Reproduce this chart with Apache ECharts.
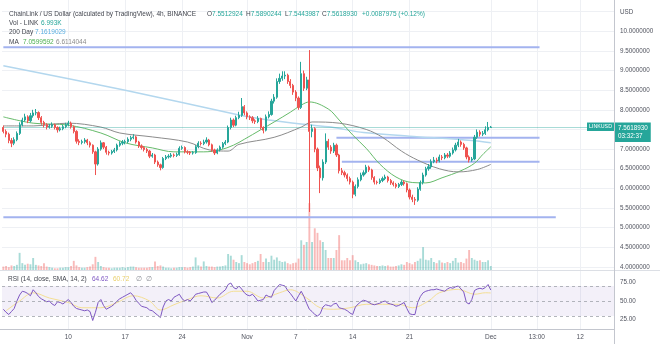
<!DOCTYPE html>
<html>
<head>
<meta charset="utf-8">
<script src="https://cdn.jsdelivr.net/npm/echarts@6/dist/echarts.min.js"></script>
<style>
  html, body { margin: 0; padding: 0; background: #ffffff; }
  #chart { width: 660px; height: 344px; }
</style>
</head>
<body>
<div id="chart"></div>
<script>
// LINK/USD, 8-hour bars from 2 Oct to 1 Dec; extra empty slots leave room on the right.
const SLOTS = 226;
const firstOpen = 7.55;

const closes = [
  7.45,7.38,7.22,7.15,7.24,7.40,7.62,7.74,7.82,7.72,
  7.85,7.92,7.93,7.80,7.68,7.62,7.56,7.58,7.62,7.55,
  7.49,7.52,7.57,7.62,7.66,7.57,7.45,7.20,7.17,7.19,
  7.23,7.16,7.10,6.93,6.62,7.00,7.16,7.05,6.92,6.90,
  6.94,6.98,7.10,7.15,7.18,7.19,7.25,7.29,7.31,7.18,
  7.08,7.04,6.99,6.95,6.82,6.85,6.67,6.60,6.53,6.76,
  6.80,6.82,6.85,6.84,6.86,7.02,7.04,6.93,6.92,6.90,
  6.91,7.06,7.15,7.14,7.18,7.23,7.11,6.98,6.90,6.98,
  7.05,7.14,7.18,7.55,7.74,7.61,7.80,7.86,8.08,7.92,
  7.82,7.80,7.72,7.70,7.78,7.55,7.48,7.82,7.88,8.22,
  8.32,8.72,8.80,8.86,8.88,8.72,8.62,8.45,8.30,8.06,
  8.92,8.55,8.76,7.45,7.52,7.00,6.52,6.27,6.67,7.20,
  7.05,6.95,7.10,6.85,6.45,6.40,6.34,6.25,6.16,5.85,
  6.05,6.22,6.34,6.40,6.54,6.47,6.28,6.16,6.15,6.20,
  6.25,6.29,6.20,6.14,6.10,6.05,6.10,6.16,6.12,5.96,
  5.78,5.72,5.70,5.98,6.15,6.34,6.50,6.55,6.68,6.72,
  6.70,6.80,6.78,6.85,6.82,6.90,6.98,7.10,7.18,7.12,
  7.03,6.80,6.72,6.75,7.30,7.43,7.38,7.40,7.49,7.5512924,7.5618930
];

const highs = [
  7.60,7.50,7.42,7.28,7.30,7.45,7.68,7.80,7.90,7.86,
  7.92,8.00,8.02,7.96,7.84,7.72,7.66,7.64,7.68,7.65,
  7.58,7.57,7.62,7.67,7.72,7.70,7.60,7.48,7.25,7.24,
  7.28,7.26,7.20,7.12,6.96,7.05,7.22,7.18,7.08,6.96,
  6.98,7.03,7.14,7.20,7.23,7.24,7.30,7.34,7.38,7.34,
  7.21,7.12,7.07,7.03,6.98,6.90,6.88,6.71,6.63,6.80,
  6.85,6.87,6.90,6.89,6.91,7.07,7.09,7.07,6.97,6.95,
  6.95,7.10,7.20,7.20,7.24,7.30,7.26,7.14,7.01,7.02,
  7.09,7.18,7.23,7.60,7.80,7.78,7.85,7.95,8.30,8.12,
  7.96,7.86,7.84,7.76,7.84,7.80,7.58,7.88,7.96,8.28,
  8.40,8.80,8.92,8.98,8.98,8.92,8.78,8.66,8.50,8.34,
  9.22,9.00,8.84,9.52,7.62,7.56,7.04,6.58,6.74,7.40,
  7.26,7.10,7.16,7.14,6.88,6.52,6.45,6.38,6.30,6.20,
  6.10,6.28,6.40,6.46,6.60,6.58,6.50,6.31,6.20,6.25,
  6.30,6.35,6.32,6.24,6.18,6.14,6.14,6.21,6.20,6.15,
  6.00,5.84,5.78,6.03,6.20,6.40,6.55,6.62,6.74,6.80,
  6.78,6.86,6.85,6.90,6.90,6.95,7.04,7.16,7.26,7.22,
  7.16,7.06,6.84,6.80,7.36,7.50,7.48,7.46,7.58,7.69,7.5890244
];

const lows = [
  7.40,7.30,7.15,7.05,7.10,7.20,7.36,7.58,7.70,7.66,
  7.68,7.80,7.86,7.74,7.62,7.55,7.50,7.52,7.54,7.50,
  7.42,7.45,7.48,7.53,7.58,7.52,7.40,7.14,7.10,7.12,
  7.14,7.10,7.04,6.88,6.34,6.58,6.96,7.00,6.86,6.84,
  6.86,6.90,6.94,7.06,7.10,7.12,7.15,7.20,7.25,7.14,
  7.03,6.99,6.94,6.90,6.77,6.78,6.62,6.55,6.46,6.50,
  6.72,6.76,6.78,6.79,6.80,6.83,6.98,6.89,6.87,6.85,
  6.86,6.88,7.02,7.09,7.10,7.14,7.07,6.93,6.85,6.87,
  6.94,7.01,7.10,7.15,7.50,7.56,7.58,7.76,7.82,7.86,
  7.76,7.74,7.66,7.64,7.66,7.50,7.40,7.45,7.78,7.85,
  8.16,8.28,8.66,8.74,8.78,8.66,8.55,8.38,8.22,8.00,
  8.02,8.48,8.50,5.40,7.30,6.92,6.44,5.88,6.20,6.62,
  6.98,6.88,6.90,6.80,6.38,6.34,6.28,6.18,6.10,5.75,
  5.80,6.00,6.18,6.30,6.36,6.42,6.22,6.10,6.10,6.11,
  6.16,6.21,6.15,6.09,6.05,6.00,6.01,6.06,6.07,5.90,
  5.72,5.65,5.58,5.66,5.94,6.10,6.30,6.45,6.50,6.64,
  6.64,6.66,6.72,6.74,6.77,6.78,6.86,6.94,7.05,7.06,
  6.98,6.74,6.66,6.68,6.72,7.26,7.32,7.33,7.36,7.45,7.5443987
];

// Volume in thousands of LINK
const volumes = [
  6,7,5,8,7,9,30,12,9,11,
  10,21,9,8,7,12,6,5,4,3,
  3,4,4,5,5,7,16,8,5,4,
  4,5,6,10,23,14,7,5,4,4,
  3,4,4,4,5,4,5,6,6,5,
  4,4,4,4,5,5,15,7,8,6,
  4,4,3,4,4,5,5,5,4,5,
  6,22,8,6,15,7,6,6,5,6,
  6,7,8,28,25,18,14,12,26,14,
  12,10,12,14,16,28,14,20,14,25,
  18,22,16,14,15,12,10,12,13,20,
  52,44,49,117,49,73,65,52,49,35,
  21,21,21,35,61,17,17,21,17,26,
  17,14,10,11,12,10,9,8,7,7,
  8,7,8,6,6,7,8,10,9,14,
  12,10,14,16,20,40,18,17,21,14,
  12,17,13,12,14,12,16,21,13,14,
  12,20,35,21,18,16,17,14,14,17,6.993
];

const rsiValues = [
  39,35,32,36,40,50,58,63,62,60,
  57,65,61,56,53,51,49,50,46,44,
  49,48,46,49,52,48,43,40,39,38,
  37,38,36,24,35,48,52,44,39,41,
  43,46,50,53,55,57,59,61,57,51,
  47,43,42,41,38,37,34,31,28,42,
  50,52,50,55,57,59,53,50,52,50,
  54,59,60,61,62,62,56,48,51,55,
  59,62,65,72,74,68,66,70,66,61,
  58,57,59,55,50,51,52,58,56,55,
  64,68,72,71,70,64,60,55,50,57,
  63,56,47,39,36,32,30,33,42,45,
  44,43,46,47,41,40,39,37,34,32,
  42,46,49,51,50,48,46,45,46,47,
  49,50,47,46,45,43,44,46,48,40,
  33,32,32,48,56,61,63,64,65,65,
  66,65,64,63,66,68,67,69,70,66,
  62,48,46,52,64,66,67,66,68,72,64.62
];

// [bar index, value] points of the smoothed lines
const rsiSmaPts = [[1,37],[6,50],[11,61],[17,54],[24,48],[29,41],[36,41],[42,48],[48,57],[54,50],[58,38],[63,45],[68,52],[73,57],[79,54],[85,63],[90,63],[96,54],[102,61],[106,65],[112,54],[117,41],[122,39],[128,41],[134,45.6],[140,45.6],[146,45.6],[151,41],[157,50],[161,61],[168,65.5],[174,59],[178,61],[180,60.72]];
const maFastPts = [[0,7.82],[11,7.66],[24,7.61],[36,7.41],[45,7.16],[55,7.03],[63,6.93],[74,6.93],[80,6.98],[85,7.10],[89,7.25],[95,7.49],[100,7.69],[106,7.94],[110,8.12],[113,8.20],[120,8.02],[124,7.74],[129,7.36],[134,7.02],[139,6.62],[145,6.29],[151,6.15],[156,6.14],[162,6.27],[169,6.45],[174,6.64],[177,6.86],[180,7.0599592]];
const maSlowPts = [[0,7.59],[11,7.59],[24,7.66],[36,7.56],[43,7.41],[55,7.31],[68,7.18],[76,6.98],[83,6.95],[87,7.12],[100,7.30],[110,7.56],[114,7.69],[124,7.66],[134,7.50],[140,7.30],[147,6.95],[153,6.72],[161,6.50],[168,6.42],[175,6.48],[180,6.6114044]];
const dayAvg200Pts = [[0,9.12],[45,8.50],[87,7.87],[98,7.74],[111,7.63],[121,7.56],[133,7.42],[150,7.33],[173,7.22],[180,7.1619029]];

// Horizontal levels drawn on the chart
const levelPrices = [9.59, 7.29, 6.68, 5.265];
const levelStart = [0, 123, 125, 0];
const levelEnd = [198, 198, 198, 204];

// Time scale labels
const tickSlots = [24, 45, 66, 90, 108, 129, 150, 180, 197, 213];
const tickLabels = ['10', '17', '24', 'Nov', '7', '14', '21', 'Dec', '13:00', '12'];

const UP = '#26a69a', DOWN = '#ef5350';
const FONT = '"Liberation Sans", Arial, sans-serif';
const GRID_LEFT = 2, GRID_WIDTH = 612;

const opens = closes.map((c, i) => (i === 0 ? firstOpen : closes[i - 1]));
const last = closes.length - 1;
const candles = closes.map((c, i) => [opens[i], c, lows[i], highs[i]]);
const slots = Array.from({ length: SLOTS }, (_, i) => String(i));
const volData = volumes.map((v, i) => ({
  value: v,
  itemStyle: { color: closes[i] >= opens[i] ? 'rgba(38,166,154,0.4)' : 'rgba(239,83,80,0.4)' }
}));
const isTick = (i) => tickSlots.indexOf(i) >= 0;

const chart = echarts.init(document.getElementById('chart'), null, { renderer: 'canvas' });

const hiddenX = (g) => ({
  type: 'category', gridIndex: g, data: slots, boundaryGap: true,
  axisLine: { show: false }, axisTick: { show: false },
  axisLabel: { show: false }, splitLine: { show: false }
});

const option = {
  animation: false,
  backgroundColor: '#ffffff',
  grid: [
    { left: GRID_LEFT, width: GRID_WIDTH, top: 11.55, height: 255.45 },
    { left: GRID_LEFT, width: GRID_WIDTH, top: 200, height: 70 },
    { left: GRID_LEFT, width: GRID_WIDTH, top: 263.5, height: 75 },
    { left: GRID_LEFT, width: GRID_WIDTH, top: 0, height: 329 }
  ],
  xAxis: [
    hiddenX(0), hiddenX(1), hiddenX(2),
    {
      type: 'category', gridIndex: 3, data: slots, boundaryGap: true,
      axisLine: { show: false }, axisTick: { show: false },
      axisLabel: {
        interval: (i) => isTick(i),
        formatter: (v, i) => tickLabels[tickSlots.indexOf(i)] || '',
        color: '#50535e', fontSize: 6.5, fontFamily: FONT, margin: 5
      },
      splitLine: { show: true, interval: (i) => isTick(i), alignWithLabel: true, lineStyle: { color: '#eef0f4', width: 1 } }
    }
  ],
  yAxis: [
    {
      type: 'value', gridIndex: 0, position: 'right', min: 4, max: 10.5, interval: 0.5,
      axisLine: { show: false }, axisTick: { show: false },
      axisLabel: { margin: 6, color: '#50535e', fontSize: 6.3, fontFamily: FONT,
        formatter: (v) => (v >= 10.5 ? '' : v.toFixed(7)) },
      splitLine: { lineStyle: { color: '#eef0f4', width: 1 } }
    },
    { type: 'value', gridIndex: 1, min: 0, max: 122.5, show: false },
    {
      type: 'value', gridIndex: 2, position: 'right', min: 0, max: 100, interval: 25,
      axisLine: { show: false }, axisTick: { show: false },
      axisLabel: { margin: 6, color: '#50535e', fontSize: 6.3, fontFamily: FONT,
        formatter: (v) => (v > 0 && v < 100 ? v.toFixed(2) : '') },
      splitLine: { show: false }
    },
    { type: 'value', gridIndex: 3, min: 0, max: 1, show: false }
  ],
  series: [
    {
      name: 'volume', type: 'bar', xAxisIndex: 1, yAxisIndex: 1,
      data: volData, barWidth: '70%', silent: true, z: 1
    },
    ...levelPrices.map((p, k) => ({
      type: 'line', xAxisIndex: 0, yAxisIndex: 0, silent: true, z: 3,
      data: [[levelStart[k], p], [levelEnd[k], p]],
      symbol: 'none', lineStyle: { color: '#a3b3ef', width: 2 }
    })),
    {
      name: '200 Day', type: 'line', xAxisIndex: 0, yAxisIndex: 0, data: dayAvg200Pts,
      smooth: 0.3, symbol: 'none', silent: true, z: 3,
      lineStyle: { color: '#b3d7ee', width: 1.5 }
    },
    {
      name: 'MA fast', type: 'line', xAxisIndex: 0, yAxisIndex: 0, data: maFastPts,
      smooth: 0.35, symbol: 'none', silent: true, z: 4,
      lineStyle: { color: '#66bb6a', width: 1 }
    },
    {
      name: 'MA slow', type: 'line', xAxisIndex: 0, yAxisIndex: 0, data: maSlowPts,
      smooth: 0.35, symbol: 'none', silent: true, z: 4,
      lineStyle: { color: '#8c8c8c', width: 1 }
    },
    {
      name: 'LINKUSD', type: 'candlestick', xAxisIndex: 0, yAxisIndex: 0, data: candles,
      barWidth: '62%', z: 5, silent: true,
      itemStyle: { color: UP, color0: DOWN, borderColor: UP, borderColor0: DOWN, borderWidth: 1 },
      markLine: {
        silent: true, symbol: 'none', label: { show: false },
        lineStyle: { color: 'rgba(38,166,154,0.4)', width: 1, type: 'solid' },
        data: [{ yAxis: closes[last] }]
      }
    },
    {
      name: 'RSI', type: 'line', xAxisIndex: 2, yAxisIndex: 2, data: rsiValues,
      symbol: 'none', silent: true, z: 4,
      lineStyle: { color: '#7e57c2', width: 1 },
      markArea: { silent: true, itemStyle: { color: 'rgba(126,87,194,0.09)' },
        data: [[{ yAxis: 30 }, { yAxis: 70 }]] },
      markLine: { silent: true, symbol: 'none', label: { show: false },
        lineStyle: { color: '#a0a3ab', type: [3, 3], width: 0.8 },
        data: [{ yAxis: 30 }, { yAxis: 50 }, { yAxis: 70 }] }
    },
    {
      name: 'RSI SMA', type: 'line', xAxisIndex: 2, yAxisIndex: 2, data: rsiSmaPts,
      smooth: 0.35, symbol: 'none', silent: true, z: 3,
      lineStyle: { color: '#f3df95', width: 1 }
    }
  ]
};

chart.setOption(option);

// Pane chrome, legend texts and the last-price tag
let gid = 0;
const txt = (x, y, text, fill, size, extra) => ({
  id: 'g' + (gid++), type: 'text', x: x, y: y, silent: true, z: 10,
  style: Object.assign({ text: text, fill: fill, font: (size || 6.5) + 'px ' + FONT, verticalAlign: 'middle' }, extra || {})
});
const seg = (x1, y1, x2, y2, stroke) => ({ id: 'g' + (gid++), type: 'line', silent: true, z: 9,
  shape: { x1: x1, y1: y1, x2: x2, y2: y2 }, style: { stroke: stroke, lineWidth: 1 } });

const DARK = '#43464f', TEAL = '#26a69a';
const ohlc = (x, letter, value) => ({
  id: 'g' + (gid++), type: 'text', x: x, y: 14, silent: true, z: 10,
  style: { text: '{l|' + letter + '}{v|' + value + '}', font: '6.5px ' + FONT, verticalAlign: 'middle',
    rich: { l: { fill: DARK, font: '6.5px ' + FONT }, v: { fill: TEAL, font: '6.5px ' + FONT } } }
});
const lastVal = (pts) => pts[pts.length - 1][1];
const yLast = chart.convertToPixel({ yAxisIndex: 0 }, closes[last]);
const change = closes[last] - 7.5530955;

chart.setOption({
  graphic: [
    seg(0, 270.5, 660, 270.5, '#dcdfe5'),
    seg(0, 329.5, 614.5, 329.5, '#c3c6ce'),
    seg(614.5, 0, 614.5, 344, '#c3c6ce'),
    txt(620, 12, 'USD', '#50535e', 6.3),
    txt(9, 14, 'ChainLink / US Dollar (calculated by TradingView), 4h, BINANCE', DARK),
    ohlc(207, 'O', opens[last].toFixed(7)),
    ohlc(246, 'H', highs[last].toFixed(7)),
    ohlc(285, 'L', lows[last].toFixed(7)),
    ohlc(322, 'C', closes[last].toFixed(7)),
    txt(362, 14, '+' + change.toFixed(7) + ' (+0.12%)', TEAL),
    txt(9, 23, 'Vol - LINK', DARK),
    txt(41, 23, volumes[last].toFixed(3) + 'K', TEAL),
    txt(9, 32.5, '200 Day', DARK),
    txt(35, 32.5, lastVal(dayAvg200Pts).toFixed(7), '#5aaee0'),
    txt(9, 42, 'MA', DARK),
    txt(23, 42, lastVal(maFastPts).toFixed(7), '#4caf50'),
    txt(56, 42, lastVal(maSlowPts).toFixed(7), '#8c8c8c'),
    txt(8, 279, 'RSI (14, close, SMA, 14, 2)', DARK),
    txt(92, 279, rsiValues[last].toFixed(2), '#7e57c2'),
    txt(113, 279, lastVal(rsiSmaPts).toFixed(2), '#e9cf6a'),
    txt(136, 279, '\u2205', '#8c8f97'),
    txt(146, 279, '\u2205', '#8c8f97'),
    // series-name tag left of the scale
    txt(587, yLast - 4.5, 'LINKUSD', '#ffffff', 5.3, {
      verticalAlign: 'top', backgroundColor: TEAL, padding: [2, 2, 1.5, 2], width: 23, align: 'left'
    }),
    // price tag on the scale
    txt(615, yLast - 4.5, closes[last].toFixed(7) + '\n03:32:37', '#ffffff', 6.3, {
      verticalAlign: 'top', backgroundColor: TEAL, padding: [1.5, 3, 2, 3], lineHeight: 8
    })
  ]
});
</script>
</body>
</html>
